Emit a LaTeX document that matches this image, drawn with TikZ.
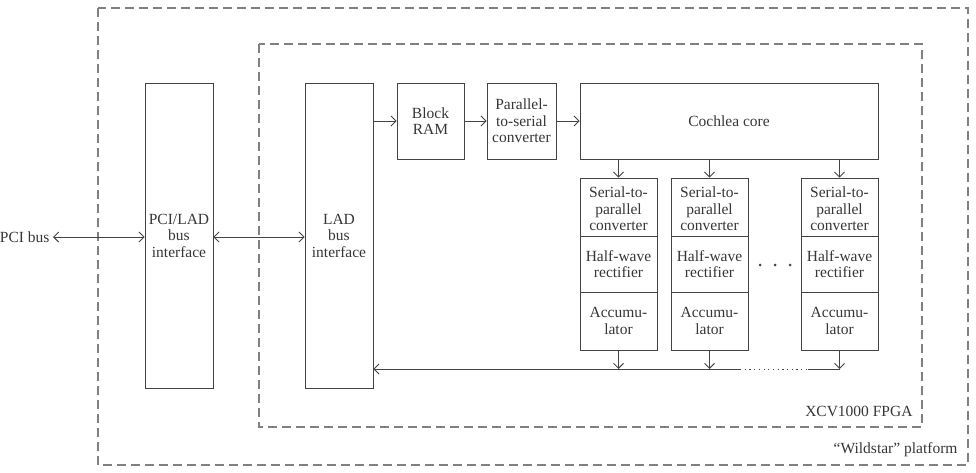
\documentclass[tikz,border=0pt]{standalone}
\usepackage{fontspec}
\setmainfont{Liberation Serif}
\usetikzlibrary{arrows.meta}
\definecolor{ln}{HTML}{444444}
\definecolor{dsh}{HTML}{808080}
\begin{document}
\begin{tikzpicture}[x=1pt,y=-1pt,
  txt/.style={font=\fontsize{15.5}{16.5}\selectfont, text=ln!80!black, align=center},
  blk/.style={draw=ln, line width=0.9pt, txt, inner sep=0pt},
  frame/.style={draw=dsh, line width=1.1pt, dash pattern=on 9pt off 5pt},
  conn/.style={draw=ln, line width=0.9pt, -{Straight Barb[length=5pt,width=10pt]}},
  conn2/.style={draw=ln, line width=0.9pt, {Straight Barb[length=5pt,width=10pt]}-{Straight Barb[length=5pt,width=10pt]}}]
\useasboundingbox (0,0) rectangle (976,472);
% frames
\draw[frame] (98,8) rectangle (968,465);
\draw[frame] (259,44) rectangle (922,427);
\node[txt, anchor=east] (plat) at (961,450) {“Wildstar” platform};
\node[txt, anchor=east] (fpga) at (916,411) {XCV1000 FPGA};
% main blocks
\node[blk, minimum width=68pt, minimum height=305pt] (pci) at (179,235.5) {PCI/LAD\\bus\\interface};
\node[blk, minimum width=68pt, minimum height=305pt] (lad) at (339,235.5) {LAD\\bus\\interface};
\node[blk, minimum width=67pt, minimum height=76pt] (bram) at (430.5,121) {Block\\RAM};
\node[blk, minimum width=69pt, minimum height=76pt] (p2s) at (521.5,121) {Parallel-\\to-serial\\converter};
\node[blk, minimum width=298pt, minimum height=76pt] (core) at (729,121) {Cochlea core};
\node[txt, anchor=east] (pcib) at (53,237) {PCI bus};
% columns
\foreach \c/\x in {a/618.5, b/709.5, c/839.5}{
  \node[blk, minimum width=77pt, minimum height=58pt] (s2p\c) at (\x,207) {};
  \node[txt] (s2pt\c) at (\x,209) {Serial-to-\\parallel\\converter};
  \node[blk, minimum width=77pt, minimum height=56pt] (hw\c) at (\x,264) {Half-wave\\rectifier};
  \node[blk, minimum width=77pt, minimum height=58pt] (acc\c) at (\x,321) {Accumu-\\lator};
  \coordinate (bot\c) at (\x,369);
  \draw[conn] (core.south -| s2p\c) -- (s2p\c.north);
  \draw[conn] (acc\c.south) -- (bot\c);
}
\node[inner sep=0pt] (dots) at (775,265) {\tikz[x=1pt,y=1pt]{\foreach \i in {0,15,30}\fill[ln] (\i,0) circle (1.5pt);}};
% connectors
\draw[conn2] (pcib.east) -- (pcib.east -| pci.west);
\draw[conn2] (pcib.east -| pci.east) -- (pcib.east -| lad.west);
\draw[conn] (lad.east |- bram.west) -- (bram.west);
\draw[conn] (bram.east) -- (p2s.west);
\draw[conn] (p2s.east) -- (p2s.east -| core.west);
\coordinate (dl) at (740,369);
\coordinate (dr) at (808,369);
\draw[ln, line width=1pt, dash pattern=on 1.2pt off 3.5pt] (dl) -- (dr);
\draw[ln, line width=0.9pt] (dr) -- (botc);
\draw[conn] (dl) -- (dl -| lad.east);
\end{tikzpicture}
\end{document}
